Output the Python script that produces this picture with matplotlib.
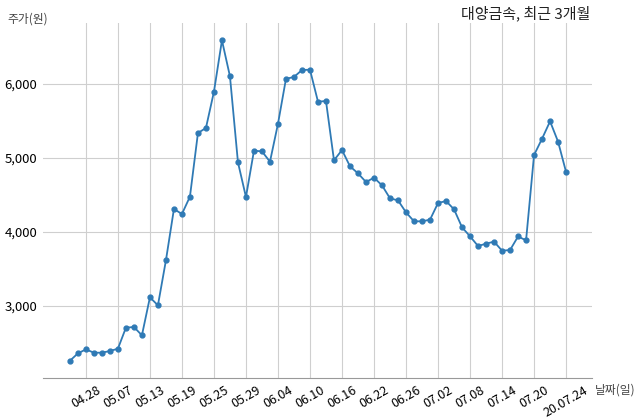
import numpy as np
import matplotlib.pyplot as plt

plt.rcParams['font.family'] = ['Noto Sans CJK KR', 'DejaVu Sans']

# daily closing prices (won), last 3 months
prices = [2261, 2361, 2415, 2370, 2370, 2393, 2424, 2708, 2717, 2605,
          3118, 3010, 3618, 4311, 4244, 4478, 5338, 5406, 5896, 6590,
          6104, 4942, 4473, 5099, 5090, 4950, 5462, 6070, 6095, 6189,
          6193, 5761, 5770, 4969, 5108, 4888, 4793, 4676, 4734, 4631,
          4455, 4428, 4266, 4145, 4145, 4167, 4392, 4419, 4307, 4064,
          3942, 3811, 3843, 3870, 3748, 3757, 3940, 3888, 5041, 5261,
          5496, 5221, 4811]
tick_idx = [2, 6, 10, 14, 18, 22, 26, 30, 34, 38, 42, 46, 50, 54, 58, 62]
tick_labels = ['04.28', '05.07', '05.13', '05.19', '05.25', '05.29', '06.04',
               '06.10', '06.16', '06.22', '06.26', '07.02', '07.08', '07.14',
               '07.20', '20.07.24']
y_ticks = [3000, 4000, 5000, 6000]

fig = plt.figure(figsize=(6.4, 4.19), dpi=100)
ax = fig.add_axes([0.0667, 0.0971, 0.8578, 0.8487])

x = np.arange(len(prices))
ax.plot(x, prices, color='#2f7ab5', linewidth=1.3, marker='o',
        markersize=3.5, zorder=3)

ax.set_xlim(-3.4, 65.2)
ax.set_ylim(2024, 6828)
ax.set_xticks(tick_idx)
ax.set_xticklabels(tick_labels, rotation=30, ha='center', fontsize=9)
ax.set_yticks(y_ticks)
ax.set_yticklabels(['{:,}'.format(v) for v in y_ticks], fontsize=9.5)
ax.tick_params(length=0, pad=4)
ax.tick_params(axis='x', pad=4)

ax.grid(True, color='#cfcfcf', linewidth=0.8)
ax.set_axisbelow(True)
for s in ['top', 'right', 'left']:
    ax.spines[s].set_visible(False)
ax.spines['bottom'].set_color('#999999')
ax.spines['bottom'].set_linewidth(0.8)

fig.text(0.011, 0.955, '주가(원)', fontsize=8.5, color='#444444', va='center')
fig.text(0.923, 0.968, '대양금속, 최근 3개월', fontsize=10.8, color='#222222',
         ha='right', va='center')
fig.text(0.929, 0.069, '날짜(일)', fontsize=8.5, color='#444444', va='center')

fig.savefig('out.png', dpi=100)
